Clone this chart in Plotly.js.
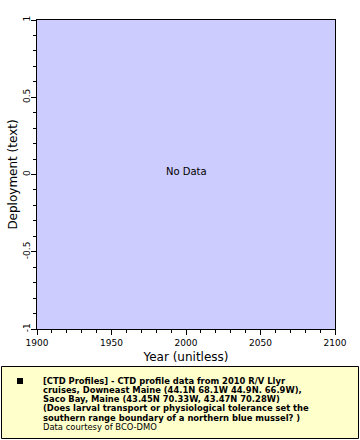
<!DOCTYPE html>
<html>
<head>
<meta charset="utf-8">
<script src="https://cdn.plot.ly/plotly-3.0.1.min.js"></script>
<style>html,body{margin:0;padding:0;background:#fff;}#chart{width:360px;height:440px;}</style>
</head>
<body>
<div id="chart"></div>
<script>
// ---- data (no data points in this dataset) ----
var years = [];
var deployments = [];
var xRange = [1900, 2100];
var yRange = [-1, 1];
var yTickVals = [-1, -0.5, 0, 0.5, 1];
var yTickText = ["-1", "-0.5", "0", "0.5", "1"];
var xTitle = "Year (unitless)";
var yTitle = "Deployment (text)";
var emptyText = "No Data";
var legendBoldLines = [
  "[CTD Profiles] - CTD profile data from 2010 R/V Llyr",
  "cruises, Downeast Maine (44.1N 68.1W 44.9N. 66.9W),",
  "Saco Bay, Maine (43.45N 70.33W, 43.47N 70.28W)",
  "(Does larval transport or physiological tolerance set the",
  "southern range boundary of a northern blue mussel? )"
];
var legendCredit = "Data courtesy of BCO-DMO";

// ---- layout helpers (pixel -> paper) ----
var W = 360, H = 440;
var M = {l: 37, r: 25, t: 20, b: 111};
var PW = W - M.l - M.r, PH = H - M.t - M.b;
function px(x) { return (x - M.l) / PW; }
function py(y) { return (H - M.b - y) / PH; }

var FONT = "DejaVu Sans, Verdana, sans-serif";

var annotations = [{
  x: 2000, y: 0, xref: "x", yref: "y", text: emptyText, showarrow: false,
  yshift: 3, font: {family: FONT, size: 10, color: "#000"}
}];
var lineY0 = 380.5, lineStep = 9.3, legFont = 8.4;
legendBoldLines.forEach(function (t, i) {
  annotations.push({
    x: px(42), y: py(lineY0 + i * lineStep), xref: "paper", yref: "paper",
    xanchor: "left", yanchor: "middle", showarrow: false, borderpad: 0,
    text: "<b>" + t + "</b>", font: {family: FONT, size: legFont, color: "#000"}
  });
});
annotations.push({
  x: px(42), y: py(lineY0 + legendBoldLines.length * lineStep), xref: "paper", yref: "paper",
  xanchor: "left", yanchor: "middle", showarrow: false, borderpad: 0,
  text: legendCredit, font: {family: FONT, size: legFont, color: "#000"}
});

var shapes = [
  {type: "rect", xref: "paper", yref: "paper", x0: px(1.5), x1: px(358.5), y0: py(366.5), y1: py(438.5),
   fillcolor: "#ffffcc", line: {color: "#000", width: 1}, layer: "below"},
  {type: "rect", xref: "paper", yref: "paper", x0: px(17), x1: px(23), y0: py(378), y1: py(384),
   fillcolor: "#000", line: {width: 0}}
];

var trace = {
  x: years, y: deployments, type: "scatter", mode: "markers",
  marker: {color: "#000", symbol: "square", size: 6}, showlegend: false, hoverinfo: "skip"
};

var layout = {
  width: W, height: H,
  margin: M,
  paper_bgcolor: "#ffffff",
  plot_bgcolor: "#ccccff",
  showlegend: false,
  font: {family: FONT, size: 9, color: "#000"},
  xaxis: {
    range: xRange, tickmode: "linear", tick0: 1900, dtick: 50,
    ticks: "outside", ticklen: 5, tickwidth: 1, tickcolor: "#000",
    minor: {tickmode: "linear", tick0: 1900, dtick: 10, ticks: "outside", ticklen: 3, tickcolor: "#000", showgrid: false},
    showline: true, linecolor: "#000", linewidth: 1, mirror: true,
    showgrid: false, zeroline: false, fixedrange: true,
    tickfont: {family: FONT, size: 9, color: "#000"},
    title: {text: xTitle, font: {family: FONT, size: 12, color: "#000"}, standoff: 5}
  },
  yaxis: {
    range: yRange, tickmode: "array", tickvals: yTickVals, ticktext: yTickText,
    tickangle: -90, ticklabelstandoff: -3,
    ticks: "outside", ticklen: 5, tickwidth: 1, tickcolor: "#000",
    minor: {tickmode: "linear", tick0: -1, dtick: 0.1, ticks: "outside", ticklen: 3, tickcolor: "#000", showgrid: false},
    showline: true, linecolor: "#000", linewidth: 1, mirror: true,
    showgrid: false, zeroline: false, fixedrange: true,
    tickfont: {family: FONT, size: 9, color: "#000"},
    title: {text: yTitle, font: {family: FONT, size: 12, color: "#000"}, standoff: 2}
  },
  annotations: annotations,
  shapes: shapes
};

Plotly.newPlot("chart", [trace], layout, {displayModeBar: false, staticPlot: true});
</script>
</body>
</html>
